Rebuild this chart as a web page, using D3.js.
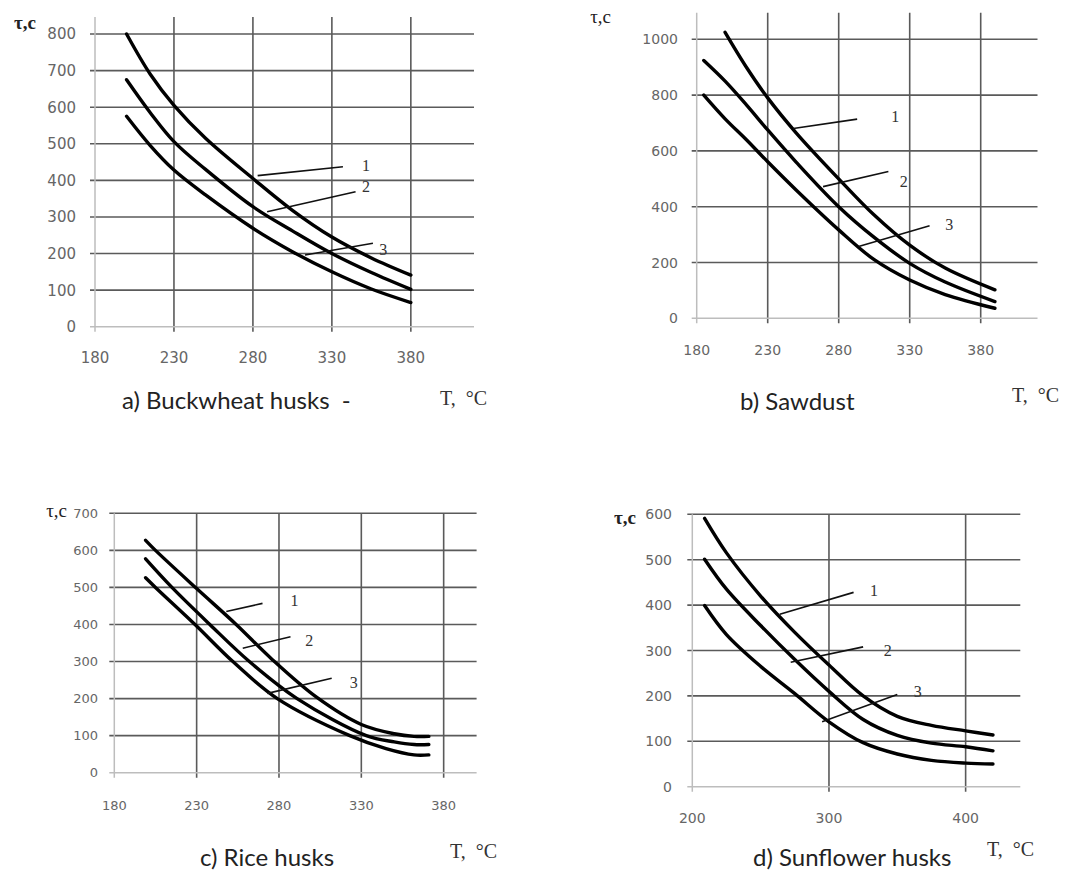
<!DOCTYPE html>
<html>
<head>
<meta charset="utf-8">
<script src="https://cdn.jsdelivr.net/npm/d3@7"></script>
<style>
  body { margin: 0; background: #fff; }
  svg { display: block; }
</style>
</head>
<body>
<svg id="chart" width="1070" height="874"></svg>
<script>
// a) Buckwheat husks
const buckT = [200, 215, 230, 250, 280, 305, 330, 355, 380];
const buckTau1 = [800, 690, 605, 515, 405, 318, 245, 188, 141];
const buckTau2 = [675, 585, 506, 430, 328, 262, 200, 148, 102];
const buckTau3 = [575, 495, 428, 360, 269, 205, 150, 103, 66];
const buckXTicks = [180, 230, 280, 330, 380];
const buckYTicks = [0, 100, 200, 300, 400, 500, 600, 700, 800];
// leader: curve point, line end, label point (data units)
const buckLeaders = [[283, 413, 337, 437, 349, 442, '1'], [289, 314, 345, 369, 349, 383, '2'], [313, 196, 356, 228, 360, 211, '3']];

// b) Sawdust
const sawT1 = [200, 215, 230, 250, 280, 305, 330, 355, 390];
const sawTau1 = [1025, 900, 790, 665, 500, 370, 262, 180, 102];
const sawT23 = [185, 200, 215, 230, 250, 280, 305, 330, 355, 390];
const sawTau2 = [924, 850, 765, 675, 560, 400, 290, 197, 130, 60];
const sawTau3 = [800, 715, 640, 561, 460, 317, 210, 137, 85, 36];
const sawXTicks = [180, 230, 280, 330, 380];
const sawYTicks = [0, 200, 400, 600, 800, 1000];
const sawLeaders = [[248, 680, 293, 714, 317, 723, '1'], [269, 472, 315, 526, 323, 490, '2'], [294, 257, 344, 332, 355, 335, '3']];

// c) Rice husks
const riceT1 = [199, 205, 230, 254, 276, 303, 330, 350, 362, 371];
const riceTau1 = [627, 600, 497, 400, 305, 203, 130, 105, 98, 98];
const riceT2 = [199, 215, 238, 262, 291, 333, 350, 362, 371];
const riceTau2 = [577, 500, 400, 300, 200, 100, 83, 76, 76];
const riceT3 = [199, 205, 229, 252, 279, 323, 345, 362, 371];
const riceTau3 = [526, 500, 400, 300, 200, 100, 65, 48, 48];
const riceXTicks = [180, 230, 280, 330, 380];
const riceYTicks = [0, 100, 200, 300, 400, 500, 600, 700];
const riceLeaders = [[248, 435, 270, 457, 287, 466, '1'], [258, 336, 287, 367, 296, 356, '2'], [273, 214, 312, 255, 323, 244, '3']];

// d) Sunflower husks
const sunT = [209, 225, 250, 275, 300, 325, 350, 375, 400, 420];
const sunTau1 = [591, 515, 420, 340, 268, 200, 155, 135, 123, 114];
const sunTau2 = [501, 435, 355, 280, 210, 148, 113, 96, 88, 79];
const sunTau3 = [399, 335, 265, 205, 143, 97, 72, 58, 52, 50];
const sunXTicks = [200, 300, 400];
const sunYTicks = [0, 100, 200, 300, 400, 500, 600];
const sunLeaders = [[264, 380, 318, 428, 330, 432, '1'], [272, 274, 325, 308, 340, 300, '2'], [295, 143, 350, 203, 362, 209, '3']];

const panels = [
  { caption: 'a) Buckwheat husks  -', capX: 122, capY: 409, tX: 440, tY: 405, yLab: [36, 29, true],
    xd: [180, 420], xr: [95, 474], yd: [0, 800], yr: [326.7, 34], top: 17, yLabX: 76, xLabY: 358, tickSize: 15,
    xTicks: buckXTicks, yTicks: buckYTicks, leaders: buckLeaders,
    series: [[buckT, buckTau1], [buckT, buckTau2], [buckT, buckTau3]] },
  { caption: 'b) Sawdust', capX: 740, capY: 410, tX: 1012, tY: 402, yLab: [611, 23, false],
    xd: [180, 420], xr: [696.7, 1037.5], yd: [0, 1000], yr: [318.3, 39.3], top: 12.7, yLabX: 678, xLabY: 350, tickSize: 14,
    xTicks: sawXTicks, yTicks: sawYTicks, leaders: sawLeaders,
    series: [[sawT1, sawTau1], [sawT23, sawTau2], [sawT23, sawTau3]] },
  { caption: 'c) Rice husks', capX: 200, capY: 866, tX: 450, tY: 858, yLab: [67, 517, false],
    xd: [180, 400], xr: [114.3, 476.6], yd: [0, 700], yr: [772.7, 513.3], top: 513.3, yLabX: 98, xLabY: 805, tickSize: 13,
    xTicks: riceXTicks, yTicks: riceYTicks, leaders: riceLeaders,
    series: [[riceT1, riceTau1], [riceT2, riceTau2], [riceT3, riceTau3]] },
  { caption: 'd) Sunflower husks', capX: 753, capY: 866, tX: 987, tY: 856, yLab: [636, 524, true],
    xd: [200, 440], xr: [692.3, 1020.3], yd: [0, 600], yr: [786.7, 514.3], top: 514.3, yLabX: 672, xLabY: 818, tickSize: 14,
    xTicks: sunXTicks, yTicks: sunYTicks, leaders: sunLeaders,
    series: [[sunT, sunTau1], [sunT, sunTau2], [sunT, sunTau3]] }
];

const svg = d3.select('#chart');
svg.append('rect').attr('width', 1070).attr('height', 874).attr('fill', '#fff');

panels.forEach((p) => {
  const x = d3.scaleLinear().domain(p.xd).range(p.xr);
  const y = d3.scaleLinear().domain(p.yd).range(p.yr);
  const g = svg.append('g');
  const x0 = p.xr[0], x1 = p.xr[1], y0 = p.yr[0];

  // horizontal grid (zero line is the light axis)
  g.append('g').selectAll('line').data(p.yTicks.filter((d) => d > 0)).join('line')
    .attr('x1', x0 - 5).attr('x2', x1).attr('y1', (d) => y(d)).attr('y2', (d) => y(d))
    .attr('stroke', '#5a5a5a').attr('stroke-width', 1.6);
  // vertical grid
  g.append('g').selectAll('line').data(p.xTicks.slice(1)).join('line')
    .attr('x1', (d) => x(d)).attr('x2', (d) => x(d)).attr('y1', p.top).attr('y2', y0 + 5)
    .attr('stroke', '#5a5a5a').attr('stroke-width', 1.6);
  // axes
  g.append('line').attr('x1', x0 - 5).attr('x2', x1).attr('y1', y0).attr('y2', y0)
    .attr('stroke', '#bdbdbd').attr('stroke-width', 1.5);
  g.append('line').attr('x1', x0).attr('x2', x0).attr('y1', p.top).attr('y2', y0 + 5)
    .attr('stroke', '#bdbdbd').attr('stroke-width', 1.5);

  // tick labels
  g.append('g').selectAll('text').data(p.yTicks).join('text')
    .attr('x', p.yLabX).attr('y', (d) => y(d)).attr('dy', '0.36em')
    .attr('text-anchor', 'end').attr('font-family', 'DejaVu Sans').attr('font-size', p.tickSize)
    .attr('fill', '#666').text((d) => d);
  g.append('g').selectAll('text').data(p.xTicks).join('text')
    .attr('x', (d) => x(d)).attr('y', p.xLabY).attr('dy', '0.36em')
    .attr('text-anchor', 'middle').attr('font-family', 'DejaVu Sans').attr('font-size', p.tickSize)
    .attr('fill', '#666').text((d) => d);

  // curves
  const line = d3.line().x((d) => x(d[0])).y((d) => y(d[1])).curve(d3.curveCatmullRom.alpha(0.5));
  g.append('g').selectAll('path').data(p.series.map((s) => d3.zip(s[0], s[1]))).join('path')
    .attr('d', line).attr('fill', 'none').attr('stroke', '#000').attr('stroke-width', 3.4)
    .attr('stroke-linecap', 'round');

  // leaders + numbers
  g.append('g').selectAll('line').data(p.leaders).join('line')
    .attr('x1', (d) => x(d[0])).attr('y1', (d) => y(d[1])).attr('x2', (d) => x(d[2])).attr('y2', (d) => y(d[3]))
    .attr('stroke', '#111').attr('stroke-width', 1.6);
  g.append('g').selectAll('text').data(p.leaders).join('text')
    .attr('x', (d) => x(d[4])).attr('y', (d) => y(d[5])).attr('dy', '0.35em')
    .attr('font-family', 'Liberation Serif').attr('font-size', 16).attr('fill', '#333')
    .text((d) => d[6]);

  // axis titles and caption
  g.append('text').attr('x', p.yLab[0]).attr('y', p.yLab[1]).attr('text-anchor', 'end')
    .attr('font-family', 'Liberation Serif').attr('font-size', 19)
    .attr('font-weight', p.yLab[2] ? 'bold' : 'normal').attr('fill', '#222').text('τ,c');
  g.append('text').attr('x', p.tX).attr('y', p.tY)
    .attr('font-family', 'Liberation Serif').attr('font-size', 20).attr('fill', '#333')
    .attr('xml:space', 'preserve').text('T,  °C');
  g.append('text').attr('x', p.capX).attr('y', p.capY)
    .attr('font-family', 'Lato').attr('font-size', 24).attr('fill', '#222')
    .attr('xml:space', 'preserve').text(p.caption);
});
</script>
</body>
</html>
